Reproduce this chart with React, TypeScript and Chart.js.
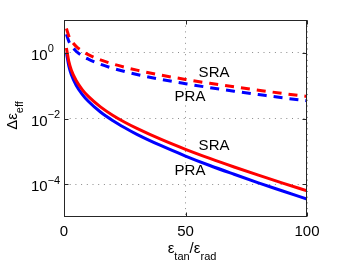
import React, { useEffect, useRef } from "react";
import { Chart, registerables } from "chart.js";

Chart.register(...registerables);

// ---- data ----
const ratio = [1, 2, 3, 5, 7.5, 10, 15, 20, 25, 30, 40, 50, 60, 70, 80, 90, 100];
const sraDashed = [5.5, 3.24, 2.37, 1.58, 1.13, 0.88, 0.61, 0.46, 0.364, 0.297, 0.209, 0.155, 0.118, 0.092, 0.0726, 0.058, 0.047];
const praDashed = [3.7, 2.24, 1.68, 1.12, 0.81, 0.645, 0.447, 0.339, 0.269, 0.219, 0.155, 0.115, 0.087, 0.0676, 0.0537, 0.0427, 0.0347];
const sraSolid = [1.41, 0.54, 0.3, 0.143, 0.076, 0.047, 0.0226, 0.0126, 0.0077, 0.005, 0.0023, 0.00115, 0.000607, 0.000333, 0.000188, 0.000108, 0.000063];
const praSolid = [1.02, 0.394, 0.22, 0.1035, 0.0546, 0.0335, 0.0158, 0.00875, 0.00525, 0.0033, 0.00148, 0.00072, 0.00037, 0.0002, 0.00011, 0.000062, 0.000035];

const xTicks = [0, 50, 100];
const yTickValues = [1, 1e-2, 1e-4];
const yTickExponents = ["0", "\u22122", "\u22124"];

const annotationTexts = ["SRA", "PRA", "SRA", "PRA"];
const annotationX = [55.4, 45.5, 55.4, 45.5];
const annotationY = [0.248, 0.047, 0.00152, 0.000248];

const FONT = '"Liberation Sans", Arial, Helvetica, sans-serif';

const toPoints = (ys: number[]) => ratio.map((x, i) => ({ x, y: ys[i] }));

const decorPlugin = {
  id: "decor",
  afterDraw(chart: any) {
    const { ctx, chartArea: ca, scales } = chart;
    const xs = scales.x;
    const ys = scales.y;
    ctx.save();
    const L = Math.round(ca.left) + 0.5;
    const R = Math.round(ca.right) - 0.5;
    const T = Math.round(ca.top) + 0.5;
    const B = Math.round(ca.bottom) - 0.5;
    ctx.strokeStyle = "#262626";
    ctx.lineWidth = 1;
    ctx.setLineDash([]);
    ctx.strokeRect(L, T, R - L, B - T);
    // inner ticks
    ctx.beginPath();
    xTicks.forEach((v) => {
      const px = Math.round(xs.getPixelForValue(v)) + 0.5;
      ctx.moveTo(px, B);
      ctx.lineTo(px, B - 4);
      ctx.moveTo(px, T);
      ctx.lineTo(px, T + 4);
    });
    yTickValues.forEach((v) => {
      const py = Math.round(ys.getPixelForValue(v)) + 0.5;
      ctx.moveTo(L, py);
      ctx.lineTo(L + 4, py);
      ctx.moveTo(R, py);
      ctx.lineTo(R - 4, py);
    });
    ctx.stroke();

    ctx.fillStyle = "#000";
    // x tick labels
    ctx.font = `15px ${FONT}`;
    ctx.textAlign = "center";
    ctx.textBaseline = "alphabetic";
    xTicks.forEach((v) => {
      ctx.fillText(String(v), xs.getPixelForValue(v), ca.bottom + 19);
    });
    // y tick labels
    ctx.textAlign = "left";
    yTickValues.forEach((v, i) => {
      const py = ys.getPixelForValue(v);
      ctx.font = `15px ${FONT}`;
      ctx.fillText("10", 31, py + 7);
      const w = ctx.measureText("10").width;
      ctx.font = `11px ${FONT}`;
      ctx.fillText(yTickExponents[i], 31 + w, py - 0.5);
    });

    // x title: ε_tan / ε_rad
    const parts: [string, number, number][] = [
      ["\u03b5", 15, 0],
      ["tan", 11, 7],
      ["/", 15, 0],
      ["\u03b5", 15, 0],
      ["rad", 11, 7],
    ];
    let total = 0;
    parts.forEach(([t, s]) => {
      ctx.font = `${s}px ${FONT}`;
      total += ctx.measureText(t).width;
    });
    let cx = 192 - total / 2;
    parts.forEach(([t, s, off]) => {
      ctx.font = `${s}px ${FONT}`;
      ctx.fillText(t, cx, 253 + off);
      cx += ctx.measureText(t).width;
    });

    // y title: Δε_eff
    ctx.save();
    ctx.translate(17, 115.5);
    ctx.rotate(-Math.PI / 2);
    const yparts: [string, number, number][] = [
      ["\u0394\u03b5", 15, 0],
      ["eff", 11, 6],
    ];
    let ytot = 0;
    yparts.forEach(([t, s]) => {
      ctx.font = `${s}px ${FONT}`;
      ytot += ctx.measureText(t).width;
    });
    let yx = -ytot / 2;
    yparts.forEach(([t, s, off]) => {
      ctx.font = `${s}px ${FONT}`;
      ctx.fillText(t, yx, off);
      yx += ctx.measureText(t).width;
    });
    ctx.restore();

    // annotations
    ctx.font = `15px ${FONT}`;
    ctx.textAlign = "left";
    ctx.textBaseline = "middle";
    annotationTexts.forEach((t, i) => {
      ctx.fillText(t, xs.getPixelForValue(annotationX[i]), ys.getPixelForValue(annotationY[i]));
    });
    ctx.restore();
  },
};

export default function App() {
  const ref = useRef<HTMLCanvasElement | null>(null);
  useEffect(() => {
    if (!ref.current) return;
    const line = (label: string, data: number[], color: string, dashed: boolean) => ({
      label,
      data: toPoints(data),
      borderColor: color,
      backgroundColor: color,
      borderWidth: 3,
      borderDash: dashed ? [9, 7] : [],
      pointRadius: 0,
      fill: false,
      cubicInterpolationMode: "monotone" as const,
    });
    const chart = new Chart(ref.current, {
      type: "line",
      data: {
        datasets: [
          line("SRA dashed", sraDashed, "#ff0000", true),
          line("PRA dashed", praDashed, "#0000ff", true),
          line("SRA", sraSolid, "#ff0000", false),
          line("PRA", praSolid, "#0000ff", false),
        ],
      },
      options: {
        animation: false,
        responsive: false,
        devicePixelRatio: 1,
        layout: { padding: { top: 20, right: 32, left: 0, bottom: 0 } },
        plugins: { legend: { display: false }, tooltip: { enabled: false } },
        scales: {
          x: {
            type: "linear",
            min: 0,
            max: 100,
            ticks: { display: false, stepSize: 50 },
            grid: { color: "#8a8a8a", drawTicks: false, lineWidth: 1 },
            border: { display: false, dash: [1, 4.7] },
            afterFit: (s: any) => {
              s.height = 47;
            },
          },
          y: {
            type: "logarithmic",
            min: 1e-5,
            max: 10,
            ticks: { display: false },
            afterBuildTicks: (s: any) => {
              s.ticks = yTickValues.map((v) => ({ value: v }));
            },
            grid: { color: "#8a8a8a", drawTicks: false, lineWidth: 1 },
            border: { display: false, dash: [1, 4.7] },
            afterFit: (s: any) => {
              s.width = 64;
            },
          },
        },
      },
      plugins: [decorPlugin],
    });
    return () => chart.destroy();
  }, []);
  return (
    <div style={{ position: "fixed", left: 0, top: 0, width: 339, height: 264, background: "#fff" }}>
      <canvas ref={ref} width={339} height={264} />
    </div>
  );
}
